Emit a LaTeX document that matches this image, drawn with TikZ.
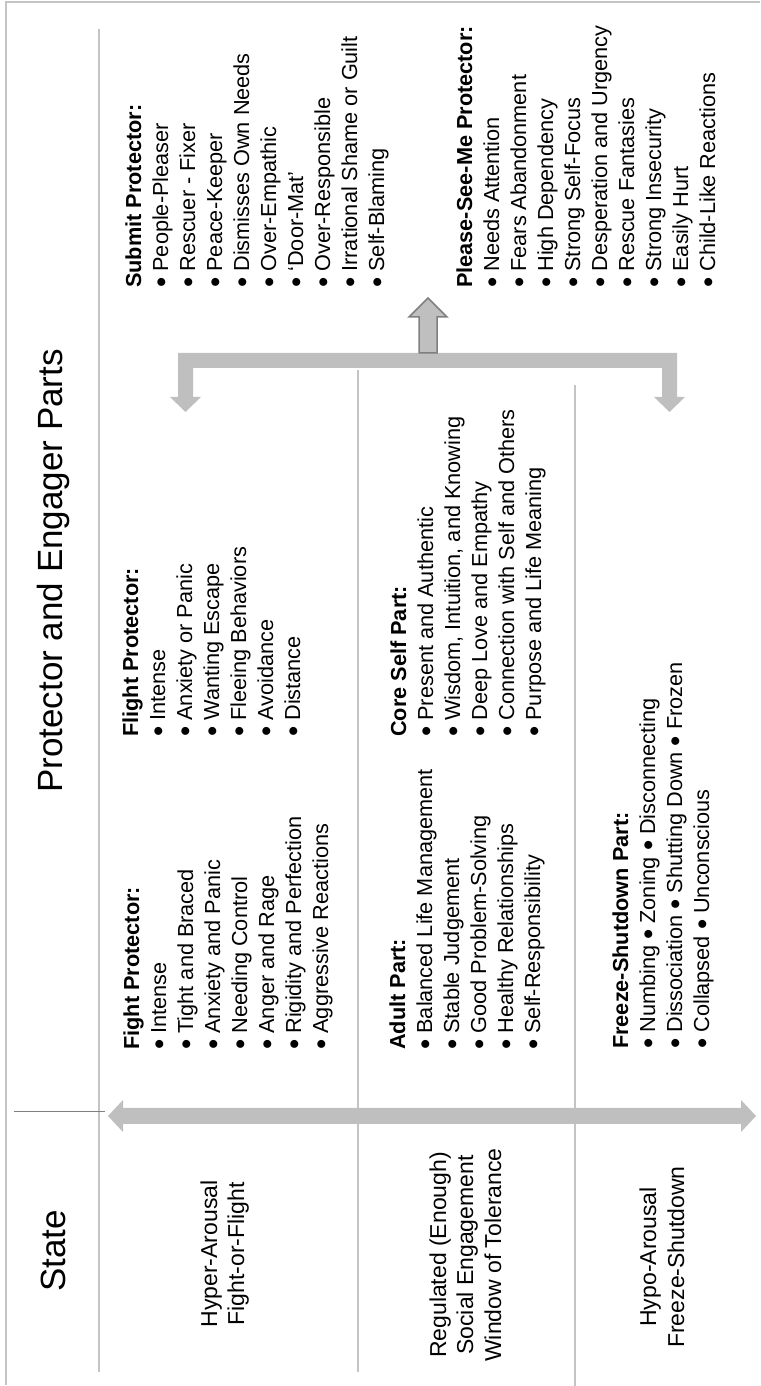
\documentclass[tikz,border=0pt]{standalone}
\usepackage{fontspec}
\usepackage{graphicx}
\setmainfont{Liberation Sans}

\definecolor{rulegray}{HTML}{C4C4C4}
\definecolor{shapegray}{HTML}{BFBFBF}
\definecolor{edgegray}{HTML}{7F7F7F}

\newcommand{\bul}{\raisebox{-0.15em}{\scalebox{1.35}{\textbullet}}}

\tikzset{
  rule/.style={draw=rulegray, line width=1.2pt},
  colhead/.style={font=\fontsize{35}{42}\selectfont, anchor=base, inner sep=0pt},
  rowlabel/.style={font=\fontsize{23}{27.5}\selectfont, anchor=base, inner sep=0pt},
  parthead/.style={font=\bfseries\fontsize{21.7}{27}\selectfont, anchor=base west, inner sep=0pt},
  partitem/.style={font=\fontsize{21.7}{27}\selectfont, anchor=base west, inner sep=0pt},
}

\begin{document}
\begin{tikzpicture}[x=1pt, y=1pt, rotate=90, transform shape]
  \useasboundingbox (0,0) rectangle (1386,-760);
  % --- frame and row rules ---
  \draw[rule] (1,-6) -- (1384,-6) -- (1384,-760);
  \draw[rule] (14,-99) -- (1357,-99);
  \draw[rule] (14,-358) -- (1016,-358);
  \draw[rule] (0,-575) -- (1001,-575);
  \draw[edgegray, line width=0.8pt] (275,-14) -- (275,-105);

  % --- column heads ---
  \node[colhead] (state) at (135,-65) {State};
  \node[colhead] (parts) at (815,-62) {Protector and Engager Parts};

  % --- state labels ---
  \node[rowlabel] (hyper-1) at (132,-217) {Hyper-Arousal};
  \node[rowlabel] (hyper-2) at (132,-244) {Fight-or-Flight};
  \node[rowlabel] (regulated-1) at (131,-446) {Regulated (Enough)};
  \node[rowlabel] (regulated-2) at (131,-473) {Social Engagement};
  \node[rowlabel] (regulated-3) at (131,-501) {Window of Tolerance};
  \node[rowlabel] (hypo-1) at (129,-656) {Hypo-Arousal};
  \node[rowlabel] (hypo-2) at (129,-684) {Freeze-Shutdown};

  % --- arousal scale arrow ---
  \fill[shapegray] (270,-108) -- (286,-123) -- (278,-123) -- (278,-741)
    -- (286,-741) -- (270,-756) -- (254,-741) -- (262,-741)
    -- (262,-123) -- (254,-123) -- cycle;

  % --- hyper-arousal parts ---
  \node[parthead] (fight) at (336,-139) {Fight Protector:};
  \foreach \txt [count=\i] in {Intense, Tight and Braced, Anxiety and Panic,
      Needing Control, Anger and Rage, Rigidity and Perfection, Aggressive Reactions}
    \node[partitem] (fight-\i) at (336,-139-27*\i) {\bul\ \txt};
  \node[parthead] (flight) at (649,-138) {Flight Protector:};
  \foreach \txt [count=\i] in {Intense, Anxiety or Panic, Wanting Escape,
      Fleeing Behaviors, Avoidance, Distance}
    \node[partitem] (flight-\i) at (649,-138-27*\i) {\bul\ \txt};

  % --- regulated parts ---
  \node[parthead] (adult) at (336,-405) {Adult Part:};
  \foreach \txt [count=\i] in {Balanced Life Management, Stable Judgement,
      Good Problem-Solving, Healthy Relationships, Self-Responsibility}
    \node[partitem] (adult-\i) at (336,-405-27*\i) {\bul\ \txt};
  \node[parthead] (coreself) at (649,-406) {Core Self Part:};
  \foreach \txt [count=\i] in {Present and Authentic, {Wisdom, Intuition, and Knowing},
      Deep Love and Empathy, Connection with Self and Others, Purpose and Life Meaning}
    \node[partitem] (coreself-\i) at (649,-406-27*\i) {\bul\ \txt};

  % --- hypo-arousal part ---
  \node[parthead] (freeze) at (337,-628) {Freeze-Shutdown Part:};
  \foreach \txt [count=\i] in {Numbing \bul\ Zoning \bul\ Disconnecting,
      Dissociation \bul\ Shutting Down \bul\ Frozen,
      Collapsed \bul\ Unconscious}
    \node[partitem] (freeze-\i) at (337,-628-27*\i) {\bul\ \txt};

  % --- protector bracket ---
  \fill[shapegray] (1033,-178) -- (1033,-677) -- (989,-677) -- (989,-685)
    -- (974,-669.5) -- (989,-654) -- (989,-662) -- (1018,-662) -- (1018,-193)
    -- (989,-193) -- (989,-201) -- (974,-185.5) -- (989,-170) -- (989,-178) -- cycle;
  \filldraw[fill=shapegray, draw=edgegray, line width=1.5pt]
    (1033,-419) -- (1069,-419) -- (1069,-409) -- (1088,-428)
    -- (1069,-447) -- (1069,-437) -- (1033,-437) -- cycle;

  % --- submit and please-see-me ---
  \node[parthead] (submit) at (1098,-141) {Submit Protector:};
  \foreach \txt [count=\i] in {People-Pleaser, Rescuer - Fixer, Peace-Keeper,
      Dismisses Own Needs, Over-Empathic, ‘Door-Mat’, Over-Responsible,
      Irrational Shame or Guilt, Self-Blaming}
    \node[partitem] (submit-\i) at (1098,-141-27*\i) {\bul\ \txt};
  \node[parthead] (pleasesee) at (1098,-472) {Please-See-Me Protector:};
  \foreach \txt [count=\i] in {Needs Attention, Fears Abandonment, High Dependency,
      Strong Self-Focus, Desperation and Urgency, Rescue Fantasies,
      Strong Insecurity, Easily Hurt, Child-Like Reactions}
    \node[partitem] (pleasesee-\i) at (1098,-472-27*\i) {\bul\ \txt};
\end{tikzpicture}
\end{document}
